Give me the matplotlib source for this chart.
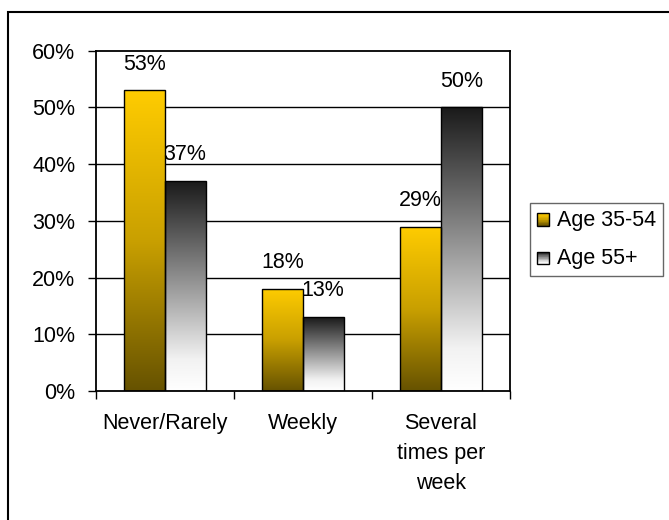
import numpy as np
import matplotlib.pyplot as plt
from matplotlib.patches import Rectangle
from matplotlib.colors import LinearSegmentedColormap
from matplotlib.legend_handler import HandlerBase

plt.rcParams['font.family'] = ['Liberation Sans', 'DejaVu Sans']

categorias = ["Never/Rarely", "Weekly", "Several\ntimes per\nweek"]
serie_nombres = ["Age 35-54", "Age 55+"]
edad_35_54 = [53, 18, 29]
edad_55_mas = [37, 13, 50]
ticks_y = [0, 10, 20, 30, 40, 50, 60]

# degradados: arriba -> abajo
mapa_oro = LinearSegmentedColormap.from_list("oro", ["#FFCC00", "#C9A000", "#665200"])
mapa_gris = LinearSegmentedColormap.from_list("gris", [(0.0, "#1A1A1A"), (0.45, "#8C8C8C"),
                                                        (0.85, "#F2F2F2"), (1.0, "#FFFFFF")])
mapas = [mapa_oro, mapa_gris]
letra = 15.5

fig = plt.figure(figsize=(6.69, 5.20), dpi=100)
ax = fig.add_axes([95.6 / 669, 1 - 391 / 520, (510 - 95.6) / 669, (391 - 50.7) / 520])

# marco exterior del grafico
fig.patches.append(Rectangle((8 / 669, -0.1), 1.2, 1 - 12 / 520 + 0.1, transform=fig.transFigure,
                             fill=False, edgecolor="black", linewidth=1.5, zorder=0))

x = np.arange(len(categorias))
ancho = 0.296
gradiente = np.linspace(0, 1, 256).reshape(-1, 1)

for k, (valores, mapa) in enumerate(zip([edad_35_54, edad_55_mas], mapas)):
    desplaz = (k - 0.5) * ancho
    barras = ax.bar(x + desplaz, valores, ancho, facecolor="none", edgecolor="black",
                    linewidth=1.0, zorder=3)
    for b, v in zip(barras, valores):
        x0, w, h = b.get_x(), b.get_width(), b.get_height()
        im = ax.imshow(gradiente, cmap=mapa, aspect="auto", extent=(x0, x0 + w, 0, h),
                       origin="upper", zorder=2, interpolation="bilinear")
        im.set_clip_path(b)
        ax.annotate(f"{v}%", (x0 + w / 2, h), xytext=(0, 19), textcoords="offset points",
                    ha="center", va="center", fontsize=letra, zorder=4)

ax.set_xlim(-0.5, 2.5)
ax.set_ylim(0, 60)
ax.set_yticks(ticks_y)
ax.set_yticklabels([f"{t}%" for t in ticks_y])
ax.set_xticks(x)
ax.set_xticklabels(categorias, linespacing=1.55)
ax.set_xticks([-0.5, 0.5, 1.5, 2.5], minor=True)
ax.tick_params(axis="x", which="major", length=0, pad=16, labelsize=letra)
ax.tick_params(axis="x", which="minor", length=5.5, width=1, direction="out")
ax.tick_params(axis="y", length=5.5, width=1, pad=9, labelsize=letra)

for t in ticks_y[1:-1]:
    ax.axhline(t, color="black", linewidth=1.0, zorder=1)
for s in ax.spines.values():
    s.set_linewidth(1.3)
    s.set_color("black")


class HandlerGradiente(HandlerBase):
    def __init__(self, mapa):
        super().__init__()
        self.mapa = mapa

    def create_artists(self, legend, orig_handle, xdescent, ydescent, width, height, fontsize, trans):
        lado = 9
        x0 = width - lado - 1
        y0 = (height - lado) / 2 - 1
        artistas = []
        n = 20
        for i in range(n):
            r = Rectangle((x0, y0 + lado * (n - 1 - i) / n), lado, lado / n,
                          facecolor=self.mapa(i / (n - 1)), edgecolor="none", transform=trans)
            artistas.append(r)
        artistas.append(Rectangle((x0, y0), lado, lado, fill=False, edgecolor="black",
                                  linewidth=1, transform=trans))
        return artistas


manejadores = [Rectangle((0, 0), 1, 1) for _ in serie_nombres]
leyenda = fig.legend(manejadores, serie_nombres, loc="upper left",
                     bbox_to_anchor=(530 / 669, 1 - 203 / 520), fontsize=letra,
                     handler_map={h: HandlerGradiente(m) for h, m in zip(manejadores, mapas)},
                     handlelength=0.65, handletextpad=0.3, labelspacing=0.8,
                     borderpad=0.32, borderaxespad=0, fancybox=False, frameon=True)
leyenda.get_frame().set_edgecolor("#404040")
leyenda.get_frame().set_linewidth(1.0)

fig.savefig("out.png", dpi=100)
